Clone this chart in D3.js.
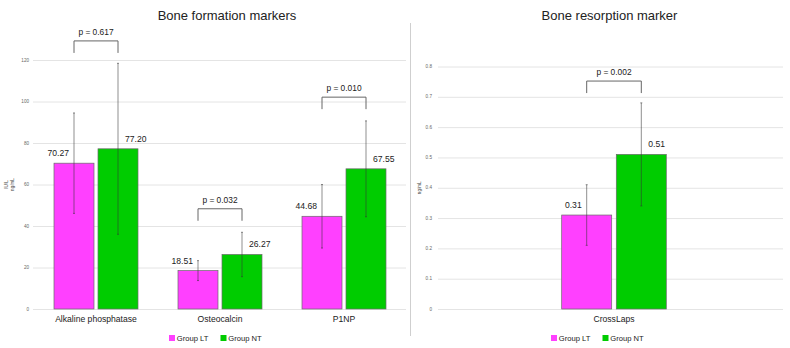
<!DOCTYPE html>
<html>
<head>
<meta charset="utf-8">
<script src="https://cdn.jsdelivr.net/npm/d3@7"></script>
<style>
  body { margin: 0; background: #fff; }
  svg { display: block; font-family: "Liberation Sans", Arial, sans-serif; }
  .grid line { stroke: #e4e4e4; stroke-width: 1; }
  .tick-label { font-size: 4.6px; fill: #666; }
  .title { font-size: 13px; fill: #222; }
  .cat { font-size: 8.6px; fill: #222; }
  .val { font-size: 8.6px; fill: #222; }
  .pval { font-size: 8.4px; fill: #222; }
  .legend { font-size: 7.6px; fill: #222; }
  .unit { font-size: 4.6px; fill: #444; }
</style>
</head>
<body>
<div id="chart"></div>
<script>
'use strict';

// ---- data ----
var groups = ['Group LT', 'Group NT'];
var groupColors = ['#ff40ff', '#00cc00'];

var formationCats = ['Alkaline phosphatase', 'Osteocalcin', 'P1NP'];
var formationLT = [70.27, 18.51, 44.68];
var formationNT = [77.20, 26.27, 67.55];
var formationLTerr = [24.2, 4.8, 15.3];
var formationNTerr = [41.2, 10.7, 23.1];
var formationP = ['p = 0.617', 'p = 0.032', 'p = 0.010'];
var formationBracket = [129.2, 48.3, 102.1];
var formationTicks = [0, 20, 40, 60, 80, 100, 120];

var resorptionCats = ['CrossLaps'];
var resorptionLT = [0.31];
var resorptionNT = [0.51];
var resorptionLTerr = [0.10];
var resorptionNTerr = [0.17];
var resorptionP = ['p = 0.002'];
var resorptionBracket = [0.752];
var resorptionTicks = [0, 0.1, 0.2, 0.3, 0.4, 0.5, 0.6, 0.7, 0.8];

var W = 790, H = 348;

var svg = d3.select('#chart').append('svg')
  .attr('width', W)
  .attr('height', H);

function panel(o) {
  var rows = o.cats.map(function(c, i) {
    return {
      cat: c,
      bars: [
        {g: 0, v: o.lt[i], e: o.ltErr[i]},
        {g: 1, v: o.nt[i], e: o.ntErr[i]}
      ],
      p: o.p[i],
      bracket: o.bracket[i]
    };
  });

  var y = d3.scaleLinear().domain(o.yDomain).range([o.bottom, o.top]);
  var x0 = d3.scaleBand().domain(o.cats).range(o.xRange);
  var bw = x0.bandwidth();
  var groupW = 2 * o.barW + o.gap;
  var x1 = d3.scaleBand()
    .domain([0, 1])
    .range([bw / 2 - groupW / 2, bw / 2 + groupW / 2])
    .paddingInner(o.gap / (o.barW + o.gap));

  var g = svg.append('g');

  // grid
  var yGrid = d3.axisLeft(y)
    .tickValues(o.ticks)
    .tickSize(-(o.gridRight - o.gridLeft))
    .tickFormat('');
  g.append('g')
    .attr('class', 'grid')
    .attr('transform', 'translate(' + o.gridLeft + ',0)')
    .call(yGrid)
    .call(function(s) { s.select('.domain').remove(); });

  // tick labels
  g.selectAll('.tick-label')
    .data(o.ticks)
    .enter().append('text')
    .attr('class', 'tick-label')
    .attr('text-anchor', 'end')
    .attr('x', o.labelRight)
    .attr('y', function(d) { return y(d); })
    .attr('dy', '0.35em')
    .text(function(d) { return d; });

  // unit label
  var unit = g.append('text')
    .attr('class', 'unit')
    .attr('text-anchor', 'middle')
    .attr('transform', 'translate(' + o.unitX + ',' + ((o.top + o.bottom) / 2) + ') rotate(-90)');
  o.units.forEach(function(u, i) {
    unit.append('tspan')
      .attr('x', 0)
      .attr('dy', i === 0 ? (-(o.units.length - 1) * 0.55) + 'em' : '1.1em')
      .text(u);
  });

  // title
  g.append('text')
    .attr('class', 'title')
    .attr('text-anchor', 'middle')
    .attr('x', o.titleX)
    .attr('y', 19.5)
    .text(o.title);

  var cat = g.selectAll('.catg')
    .data(rows)
    .enter().append('g')
    .attr('class', 'catg')
    .attr('transform', function(d) { return 'translate(' + x0(d.cat) + ',0)'; });

  // bars
  cat.selectAll('rect')
    .data(function(d) { return d.bars; })
    .enter().append('rect')
    .attr('x', function(d) { return x1(d.g); })
    .attr('width', x1.bandwidth())
    .attr('y', function(d) { return y(d.v); })
    .attr('height', function(d) { return y(0) - y(d.v); })
    .style('fill', function(d) { return groupColors[d.g]; })
    .style('stroke', '#6a6a6a')
    .style('stroke-width', 0.7);

  // error bars
  var err = cat.selectAll('.err')
    .data(function(d) { return d.bars; })
    .enter().append('g')
    .attr('class', 'err')
    .style('stroke', '#333')
    .style('stroke-opacity', 0.55)
    .style('stroke-width', 1);
  function cx(d) { return x1(d.g) + x1.bandwidth() / 2; }
  err.append('line')
    .attr('x1', cx).attr('x2', cx)
    .attr('y1', function(d) { return y(d.v + d.e); })
    .attr('y2', function(d) { return y(d.v - d.e); });
  err.append('line')
    .attr('x1', function(d) { return cx(d) - 1; })
    .attr('x2', function(d) { return cx(d) + 1; })
    .attr('y1', function(d) { return y(d.v + d.e); })
    .attr('y2', function(d) { return y(d.v + d.e); });
  err.append('line')
    .attr('x1', function(d) { return cx(d) - 1; })
    .attr('x2', function(d) { return cx(d) + 1; })
    .attr('y1', function(d) { return y(d.v - d.e); })
    .attr('y2', function(d) { return y(d.v - d.e); });

  // value labels
  cat.selectAll('.val')
    .data(function(d) { return d.bars; })
    .enter().append('text')
    .attr('class', 'val')
    .attr('text-anchor', function(d) { return d.g === 0 ? 'end' : 'start'; })
    .attr('x', function(d) { return d.g === 0 ? cx(d) - 5 : cx(d) + 7; })
    .attr('y', function(d) { return y(d.v) - 7; })
    .text(function(d) { return o.fmt(d.v); });

  // significance brackets
  var legLen = 12;
  cat.append('path')
    .attr('d', function(d) {
      var a = cx(d.bars[0]), b = cx(d.bars[1]), t = y(d.bracket);
      return 'M' + a + ',' + (t + legLen) + 'V' + t + 'H' + b + 'V' + (t + legLen);
    })
    .style('fill', 'none')
    .style('stroke', '#666')
    .style('stroke-width', 1);
  cat.append('text')
    .attr('class', 'pval')
    .attr('text-anchor', 'middle')
    .attr('x', function(d) { return (cx(d.bars[0]) + cx(d.bars[1])) / 2; })
    .attr('y', function(d) { return y(d.bracket) - 6; })
    .text(function(d) { return d.p; });

  // category labels
  cat.append('text')
    .attr('class', 'cat')
    .attr('text-anchor', 'middle')
    .attr('x', bw / 2)
    .attr('y', 322)
    .text(function(d) { return d.cat; });

  // legend
  var leg = g.append('g')
    .attr('transform', 'translate(' + o.legendX + ',335)');
  var item = leg.selectAll('g')
    .data(groups)
    .enter().append('g')
    .attr('transform', function(d, i) { return 'translate(' + (i * 51.5) + ',0)'; });
  item.append('rect')
    .attr('width', 6).attr('height', 6)
    .style('fill', function(d, i) { return groupColors[i]; });
  item.append('text')
    .attr('class', 'legend')
    .attr('x', 7.8)
    .attr('y', 3)
    .attr('dy', '0.35em')
    .text(function(d) { return d; });
}

panel({
  cats: formationCats, lt: formationLT, nt: formationNT,
  ltErr: formationLTerr, ntErr: formationNTerr,
  p: formationP, bracket: formationBracket, ticks: formationTicks,
  yDomain: [0, 120], top: 60, bottom: 309,
  xRange: [34, 406], barW: 40, gap: 4,
  gridLeft: 33, gridRight: 406, labelRight: 29, unitX: 11,
  units: ['IU/L', 'ng/mL'],
  title: 'Bone formation markers', titleX: 227,
  legendX: 169,
  fmt: d3.format('.2f')
});

panel({
  cats: resorptionCats, lt: resorptionLT, nt: resorptionNT,
  ltErr: resorptionLTerr, ntErr: resorptionNTerr,
  p: resorptionP, bracket: resorptionBracket, ticks: resorptionTicks,
  yDomain: [0, 0.8], top: 66.5, bottom: 309,
  xRange: [440, 788], barW: 50, gap: 4.6,
  gridLeft: 438, gridRight: 783, labelRight: 432, unitX: 421,
  units: ['ng/mL'],
  title: 'Bone resorption marker', titleX: 609.5,
  legendX: 551,
  fmt: d3.format('.2f')
});

// separator between the two charts
svg.append('line')
  .attr('x1', 410.5).attr('x2', 410.5)
  .attr('y1', 23).attr('y2', 336)
  .style('stroke', '#cfcfcf')
  .style('stroke-width', 1);
</script>
</body>
</html>
